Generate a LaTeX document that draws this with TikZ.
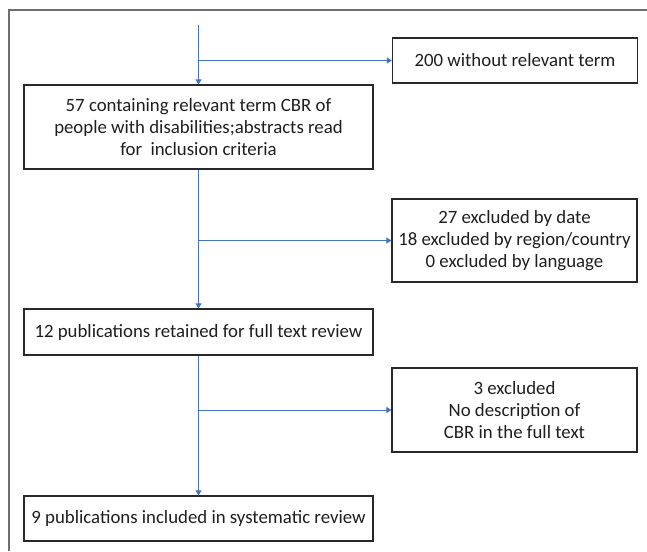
\documentclass[tikz,border=0pt]{standalone}
\usepackage{fontspec}
\setmainfont{Carlito}
\usetikzlibrary{arrows.meta}
\definecolor{arrowblue}{RGB}{68,114,196}
\definecolor{frameg}{RGB}{110,110,110}
\definecolor{txt}{RGB}{30,30,30}
\definecolor{boxline}{RGB}{40,40,40}
\begin{document}
\begin{tikzpicture}[x=1pt,y=-1pt,
  basebox/.style={draw=boxline, line width=1.2pt, text=txt,
    font=\fontsize{18.8}{22}\selectfont, align=center, inner sep=0pt},
  leftbox/.style={basebox, minimum width=349pt},
  rightbox/.style={basebox, minimum width=245pt},
  flow/.style={draw=arrowblue, line width=1pt,
    -{Triangle[width=6pt,length=5pt]}}]
\useasboundingbox (0,0) rectangle (647,551);
\draw[frameg, line width=1.2pt] (9,551) -- (9,10) -- (647,10);

\node[leftbox, minimum height=84pt] (b1) at (198.5,127)
  {57 containing relevant term CBR of\\people with disabilities;abstracts read\\for\ \ inclusion criteria};
\node[rightbox, minimum height=45pt] (b200) at (515,60.5) {200 without relevant term};
\node[rightbox, minimum height=83pt] (b27) at (514.5,240.5)
  {27 excluded by date\\18 excluded by region/country\\0 excluded by language};
\node[leftbox, minimum height=46pt] (b12) at (198.5,332) {12 publications retained for full text review};
\node[rightbox, minimum height=84pt] (b3) at (514.5,410)
  {3 excluded\\No description of\\CBR in the full text};
\node[leftbox, minimum height=45pt] (b9) at (198.5,518.5) {9 publications included in systematic review};

\coordinate (start) at (198.5,25);
\coordinate (j1) at (b1.north |- b200.west);
\coordinate (j2) at (b1.south |- b27.west);
\coordinate (j3) at (b12.south |- b3.west);

\draw[flow] (start) -- (b1.north);
\draw[flow] (j1) -- (b200.west);
\draw[flow] (b1.south) -- (b12.north);
\draw[flow] (j2) -- (b27.west);
\draw[flow] (b12.south) -- (b9.north);
\draw[flow] (j3) -- (b3.west);
\end{tikzpicture}
\end{document}
